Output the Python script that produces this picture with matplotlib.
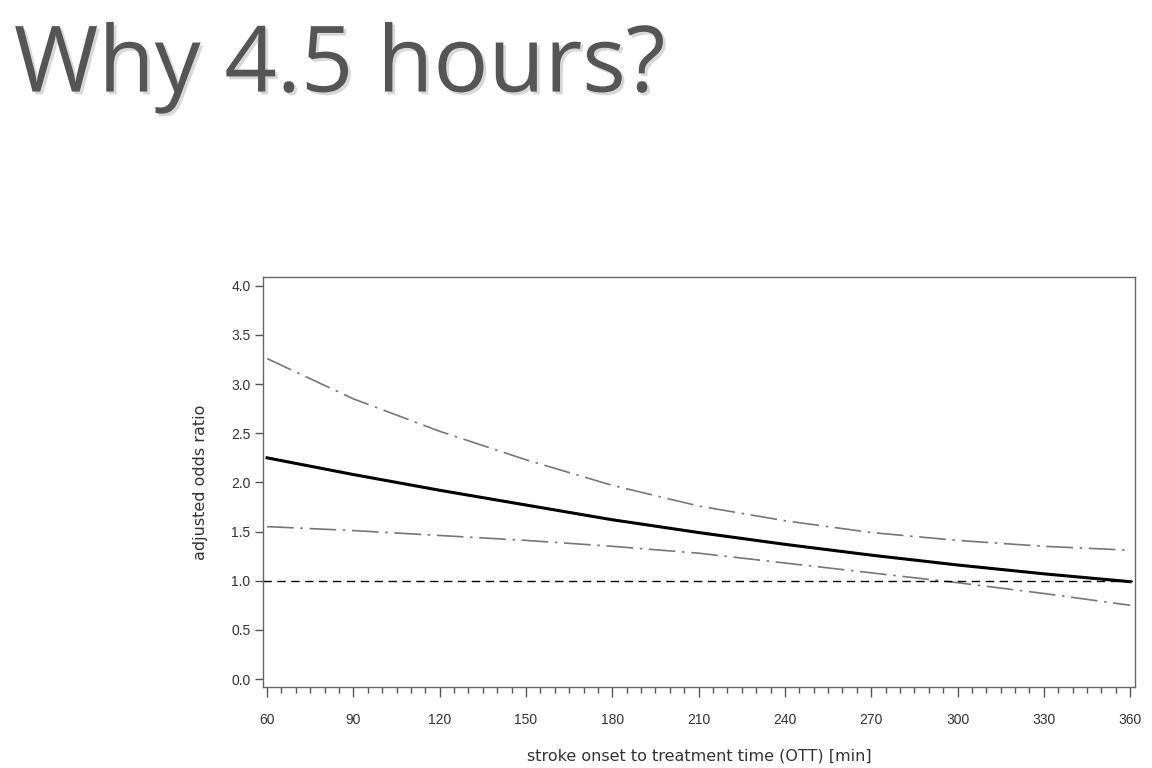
"""Why 4.5 hours? - adjusted odds ratio vs stroke onset to treatment time"""

import matplotlib
matplotlib.use("Agg")
from matplotlib import pyplot as plt
from matplotlib import patheffects
from matplotlib.ticker import MultipleLocator

# Values
ott_min = [60, 90, 120, 150, 180, 210, 240, 270, 300, 330, 360]
odds_ratio = [2.25, 2.08, 1.92, 1.77, 1.62, 1.49, 1.37, 1.26, 1.16, 1.07, 0.99]
upper_ci = [3.26, 2.85, 2.52, 2.23, 1.97, 1.76, 1.61, 1.49, 1.41, 1.35, 1.31]
lower_ci = [1.55, 1.51, 1.46, 1.41, 1.35, 1.28, 1.18, 1.08, 0.98, 0.87, 0.75]
x_ticks = [60, 90, 120, 150, 180, 210, 240, 270, 300, 330, 360]
y_ticks = [0.0, 0.5, 1.0, 1.5, 2.0, 2.5, 3.0, 3.5, 4.0]

fig = plt.figure(figsize=(11.52, 7.68), dpi=100)
fig.patch.set_facecolor("white")

# Slide title
fig.text(0.012, 0.912, "Why 4.5 hours?", fontsize=66, family="Open Sans",
         color="#555555", va="center", ha="left",
         path_effects=[patheffects.withSimplePatchShadow(offset=(2, -2),
                                                          shadow_rgbFace="#aaaaaa",
                                                          alpha=0.45)])

ax = fig.add_axes([0.2283, 0.1055, 0.757, 0.5339])

ax.plot(ott_min, upper_ci, color="#777777", lw=1.2, dashes=(16, 4, 1.5, 4))
ax.plot(ott_min, lower_ci, color="#777777", lw=1.2, dashes=(16, 4, 1.5, 4))
ax.plot(ott_min, odds_ratio, color="black", lw=2.2)
ax.axhline(1.0, color="black", lw=1.0, dashes=(6, 4))

ax.set_xlim(58.6, 361.7)
ax.set_ylim(-0.081, 4.09)
ax.set_xticks(x_ticks)
ax.set_yticks(y_ticks)
ax.set_yticklabels([f"{v:.1f}" for v in y_ticks])
ax.xaxis.set_minor_locator(MultipleLocator(5))

for side in ["top", "bottom", "left", "right"]:
    ax.spines[side].set_color("#666666")
    ax.spines[side].set_linewidth(1.0)

for lbl in ax.get_xticklabels() + ax.get_yticklabels():
    lbl.set_fontfamily("Liberation Sans")
    lbl.set_fontsize(10)
    lbl.set_color("#333333")

ax.tick_params(axis="x", which="major", length=7, width=1, color="#555555", pad=12)
ax.tick_params(axis="x", which="minor", length=4, width=1, color="#555555")
ax.tick_params(axis="y", which="major", length=6, width=1, color="#555555", pad=3)

label_font = {"family": "DejaVu Sans", "size": 11.5}
ax.set_xlabel("stroke onset to treatment time (OTT) [min]", fontdict=label_font,
              color="#333333", labelpad=15)
ax.set_ylabel("adjusted odds ratio", fontdict=label_font, color="#333333",
              labelpad=17)

fig.savefig("out.png", dpi=100, facecolor="white")
